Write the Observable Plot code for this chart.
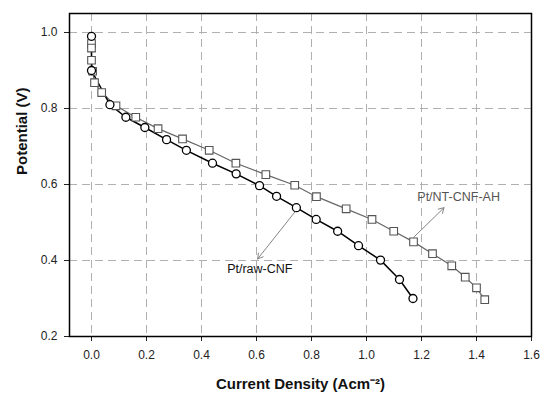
<!DOCTYPE html>
<html><head><meta charset="utf-8">
<script src="https://cdn.jsdelivr.net/npm/d3@7"></script>
<script src="https://cdn.jsdelivr.net/npm/@observablehq/plot@0.6"></script>
<style>
body{margin:0;background:#fff;font-family:"Liberation Sans",Arial,sans-serif}
#chart svg{display:block}
</style>
</head><body><div id="chart"></div>
<script>
// Pt/raw-CNF (circles)
const rawX = [0.0, 0.0, 0.067, 0.125, 0.194, 0.273, 0.345, 0.44, 0.526, 0.611, 0.673, 0.745, 0.817, 0.895, 0.971, 1.051, 1.12, 1.169];
const rawY = [0.99, 0.90, 0.81, 0.777, 0.75, 0.718, 0.69, 0.656, 0.628, 0.597, 0.569, 0.539, 0.508, 0.477, 0.439, 0.401, 0.35, 0.30];
// Pt/NT-CNF-AH (squares)
const ntX = [0.0, 0.0, 0.0, 0.004, 0.011, 0.037, 0.089, 0.161, 0.242, 0.331, 0.428, 0.525, 0.634, 0.739, 0.818, 0.926, 1.02, 1.099, 1.171, 1.24, 1.31, 1.359, 1.4, 1.43];
const ntY = [0.971, 0.959, 0.927, 0.898, 0.868, 0.842, 0.807, 0.777, 0.747, 0.72, 0.69, 0.656, 0.626, 0.598, 0.568, 0.536, 0.508, 0.477, 0.449, 0.418, 0.386, 0.356, 0.328, 0.297];
const xTicks = [0.0, 0.2, 0.4, 0.6, 0.8, 1.0, 1.2, 1.4, 1.6];
const yTicks = [0.2, 0.4, 0.6, 0.8, 1.0];
const labels = ["Pt/raw-CNF", "Pt/NT-CNF-AH"];
const labelX = [0.612, 1.335];
const labelY = [0.377, 0.568];
const arrowX1 = [0.740, 1.170];
const arrowY1 = [0.528, 0.460];
const arrowX2 = [0.604, 1.282];
const arrowY2 = [0.404, 0.539];

const raw = rawX.map((x, i) => ({x, y: rawY[i]}));
const nt = ntX.map((x, i) => ({x, y: ntY[i]}));
const ann = labels.map((t, i) => ({t, x: labelX[i], y: labelY[i], x1: arrowX1[i], y1: arrowY1[i], x2: arrowX2[i], y2: arrowY2[i]}));

const chart = Plot.plot({
  width: 542, height: 394,
  marginLeft: 69, marginRight: 11, marginTop: 13, marginBottom: 58,
  style: {fontFamily: '"Liberation Sans", Arial, sans-serif', background: "#fff"},
  x: {domain: [-0.08, 1.6]},
  y: {domain: [0.2, 1.05]},
  marks: [
    Plot.gridX(xTicks, {stroke: "#b0b0b0", strokeOpacity: 1, strokeDasharray: "8,5", strokeWidth: 1}),
    Plot.gridY(yTicks, {stroke: "#b0b0b0", strokeOpacity: 1, strokeDasharray: "8,5", strokeWidth: 1}),
    Plot.axisX(xTicks, {tickSize: 5, tickPadding: 9, tickFormat: d3.format(".1f"), label: null, fontSize: 12, color: "#222"}),
    Plot.axisY(yTicks, {tickSize: 5, tickPadding: 7, tickFormat: d3.format(".1f"), label: null, fontSize: 12, color: "#222"}),
    Plot.text(["Current Density (Acm⁻²)"], {frameAnchor: "bottom", lineAnchor: "middle", dy: 48, fontSize: 15, fontWeight: "bold", fill: "#111"}),
    Plot.text(["Potential (V)"], {frameAnchor: "left", lineAnchor: "middle", dx: -47, rotate: -90, fontSize: 15, fontWeight: "bold", fill: "#111"}),
    Plot.line(nt, {x: "x", y: "y", stroke: "#666", strokeWidth: 1.2}),
    Plot.line(raw, {x: "x", y: "y", stroke: "#000", strokeWidth: 1.5}),
    Plot.dot(nt, {x: "x", y: "y", symbol: "square", r: 4.3, stroke: "#555", fill: "#fff", strokeWidth: 1.1}),
    Plot.dot(raw, {x: "x", y: "y", r: 4, stroke: "#000", fill: "#fff", strokeWidth: 1.3}),
    Plot.arrow(ann, {x1: "x1", y1: "y1", x2: "x2", y2: "y2", stroke: "#777", strokeWidth: 0.9, headLength: 10}),
    Plot.text(ann, {x: "x", y: "y", text: "t", fontSize: 12.5, fill: (d, i) => i === 0 ? "#111" : "#555"}),
    Plot.frame({stroke: "#000", strokeWidth: 1.5})
  ]
});
document.getElementById("chart").appendChild(chart);
</script>
</body></html>
